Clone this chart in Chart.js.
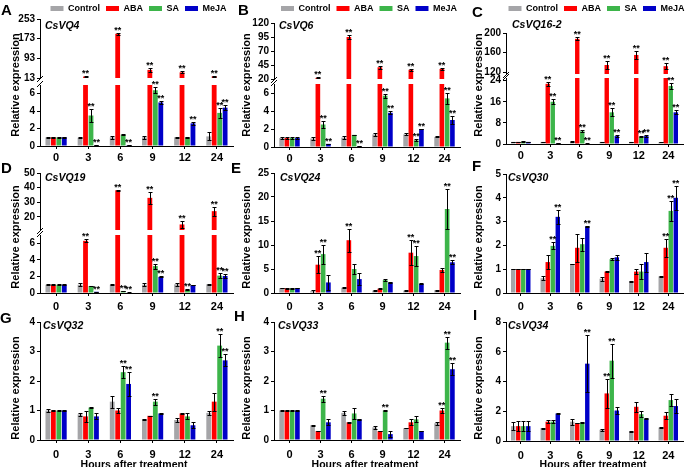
<!DOCTYPE html>
<html><head><meta charset="utf-8">
<script src="https://cdn.jsdelivr.net/npm/chart.js@4"></script>
<style>
html,body{margin:0;padding:0;background:#fff;}
#wrap{position:relative;width:685px;height:467px;overflow:hidden;font-family:"Liberation Sans",Arial,sans-serif;background:#fff;}
canvas{position:absolute;}
.t{position:absolute;white-space:nowrap;font-weight:bold;color:#000;}
</style></head><body><div id="wrap"></div>
<script>
// ---------- data ----------
const hours = ['0','3','6','9','12','24'];
const series = ['Control','ABA','SA','MeJA'];
const colors = ['#a5a5a8','#ff0000','#3db54a','#0000c8'];

// CsVQ4 (rows: Control, ABA, SA, MeJA)
const vq4Mean = [[1.0,0.95,1.0,1.0,1.0,1.1],[1.0,19,193,46,36,20],[1.0,3.5,1.3,6.4,1.0,3.8],[1.0,0.08,0.1,5.0,2.6,4.4]];
const vq4Err  = [[0.06,0.05,0.2,0.15,0.06,0.45],[0.05,1,5,7,4,2],[0.05,0.7,0.03,0.35,0.05,0.6],[0.05,0.02,0.02,0.15,0.2,0.3]];
const vq4Sig  = [[0,0,0,0,0,0],[0,1,1,1,1,1],[0,1,0,1,0,1],[0,1,1,1,1,1]];
const vq4UpperTicks = [13,93,173,253];
const vq4LowerTicks = [0,2,4,6];

// CsVQ6
const vq6Mean = [[1.0,0.95,1.05,1.4,1.4,1.12],[1.0,22,95,41,36.5,38],[1.0,2.5,1.35,5.7,0.75,5.4],[1.0,0.35,0.08,3.8,2.0,3.0]];
const vq6Err  = [[0.1,0.15,0.15,0.15,0.12,0.05],[0.1,1,4,2.5,2,2],[0.08,0.35,0.03,0.2,0.1,0.6],[0.08,0.03,0.02,0.15,0.05,0.45]];
const vq6Sig  = [[0,0,0,0,0,0],[0,1,1,1,1,1],[0,1,0,1,1,1],[0,1,1,1,1,1]];
const vq6UpperTicks = [20,45,70,95,120];
const vq6LowerTicks = [0,2,4,6];

// CsVQ16-2
const vq162Mean = [[0.8,0.8,0.8,0.8,0.8,0.7],[0.8,22.8,188,134.5,155,132],[0.9,16,4.8,12,2.8,22],[0.8,0.3,0.2,3.0,3.0,12]];
const vq162Err  = [[0.1,0.1,0.2,0.1,0.1,0.1],[0.1,0.8,3,8,9,6],[0.1,1.0,0.4,1.5,0.2,1.2],[0.1,0.05,0.05,0.3,0.3,0.7]];
const vq162Sig  = [[0,0,0,0,0,0],[0,1,1,1,1,1],[0,1,1,1,1,1],[0,1,1,1,1,1]];
const vq162UpperTicks = [120,160,200];
const vq162LowerTicks = [0,8,16,24];

// CsVQ19
const vq19Mean = [[1.0,1.0,1.0,1.0,1.05,1.05],[1.0,6.3,38.2,33,14.8,23.9],[1.0,0.85,0.25,3.25,0.4,2.1],[1.0,0.15,0.05,1.95,0.95,2.05]];
const vq19Err  = [[0.03,0.15,0.05,0.15,0.2,0.05],[0.03,0.2,0.5,4,2.5,3],[0.03,0.03,0.05,0.3,0.05,0.3],[0.03,0.02,0.02,0.05,0.03,0.2]];
const vq19Sig  = [[0,0,0,0,0,0],[0,1,1,1,1,1],[0,0,1,1,1,1],[0,1,1,1,0,1]];
const vq19UpperTicks = [20,30,40,50];
const vq19LowerTicks = [0,2,4,6];

// CsVQ24
const vq24Mean = [[1.0,0.4,1.1,0.5,0.5,0.6],[1.0,5.9,11.0,0.9,8.4,4.8],[1.0,8.1,5.0,2.7,7.7,17.5],[1.0,2.2,2.9,2.2,1.9,6.4]];
const vq24Err  = [[0.05,0.3,0.08,0.05,0.05,0.08],[0.1,1.8,2.4,0.05,2.6,0.5],[0.1,2.0,1.0,0.2,2.0,4.2],[0.05,1.6,1.2,0.05,0.1,0.4]];
const vq24Sig  = [[0,0,0,0,0,0],[0,1,1,0,1,0],[0,1,0,0,1,1],[0,0,0,0,0,1]];
const vq24Ticks = [0,5,10,15,20,25];

// CsVQ30
const vq30Mean = [[1.0,0.62,1.22,0.6,0.5,0.7],[1.0,1.3,1.9,0.9,0.9,1.9],[1.0,1.98,2.05,1.42,0.9,3.45],[1.0,3.2,2.8,1.5,1.3,4.0]];
const vq30Err  = [[0.01,0.08,0.01,0.08,0.02,0.02],[0.01,0.3,0.6,0.01,0.12,0.38],[0.01,0.15,0.28,0.03,0.3,0.42],[0.01,0.3,0.01,0.1,0.4,0.5]];
const vq30Sig  = [[0,0,0,0,0,0],[0,0,0,0,0,1],[0,1,0,0,0,1],[0,1,1,0,0,1]];
const vq30Ticks = [0,1,2,3,4,5];

// CsVQ32
const vq32Mean = [[1.0,0.87,1.3,0.7,0.68,0.92],[1.0,0.8,1.0,0.82,0.9,1.3],[1.0,1.1,2.3,1.3,0.8,3.2],[1.0,0.8,1.9,0.9,0.5,2.7]];
const vq32Err  = [[0.04,0.06,0.2,0.01,0.08,0.06],[0.01,0.2,0.1,0.01,0.01,0.3],[0.01,0.01,0.2,0.1,0.1,0.38],[0.01,0.1,0.4,0.01,0.1,0.2]];
const vq32Sig  = [[0,0,0,0,0,0],[0,0,0,0,0,0],[0,0,1,1,0,1],[0,0,1,0,0,1]];
const vq32Ticks = [0,1,2,3,4];

// CsVQ33
const vq33Mean = [[1.0,0.5,0.92,0.43,0.4,0.57],[1.0,0.3,0.6,0.3,0.6,1.0],[1.0,1.4,0.9,1.0,0.7,3.3],[1.0,0.6,0.7,0.2,0.3,2.4]];
const vq33Err  = [[0.03,0.01,0.08,0.05,0.01,0.05],[0.01,0.01,0.01,0.01,0.1,0.1],[0.02,0.1,0.2,0.01,0.1,0.2],[0.02,0.1,0.01,0.1,0.01,0.2]];
const vq33Sig  = [[0,0,0,0,0,0],[0,0,0,0,0,1],[0,1,0,1,0,1],[0,0,0,0,0,1]];
const vq33Ticks = [0,1,2,3,4];

// CsVQ34
const vq34Mean = [[1.0,0.87,1.3,0.75,0.65,0.9],[1.0,1.3,1.2,3.2,2.3,1.7],[1.0,1.3,1.25,5.4,1.8,2.75],[1.0,1.85,5.2,2.05,1.5,2.35]];
const vq34Err  = [[0.25,0.03,0.2,0.05,0.03,0.05],[0.35,0.1,0.02,1.0,0.35,0.25],[0.35,0.12,0.02,1.15,0.2,0.38],[0.35,0.05,1.9,0.25,0.02,0.5]];
const vq34Sig  = [[0,0,0,0,0,0],[0,0,0,1,0,0],[0,0,0,1,0,0],[0,0,1,0,0,0]];
const vq34Ticks = [0,2,4,6,8];

// ---------- layout ----------
const FONT = '"Liberation Sans", Arial, sans-serif';
Chart.defaults.font.family = FONT;
const wrap = document.getElementById('wrap');
const cols = [{l:40, r:233, yt:15, xt:134}, {l:274, r:460, yt:246, xt:365}, {l:506, r:683, yt:478, xt:593}];
const rows = [{yc:85, xpad:2}, {yc:237, xpad:4}, {yc:388, xpad:5}];

const panels = [
  {letter:'A', lx:1,   ly:15,  gene:'CsVQ4',    gx:45,  gy:29,  col:0, row:0, mean:vq4Mean,   err:vq4Err,   sig:vq4Sig,
   parts:[{top:19,bottom:78,min:13,max:253,ticks:vq4UpperTicks},{top:85,bottom:146,min:0,max:7,ticks:vq4LowerTicks}]},
  {letter:'B', lx:238, ly:15,  gene:'CsVQ6',    gx:279, gy:29,  col:1, row:0, mean:vq6Mean,   err:vq6Err,   sig:vq6Sig,
   parts:[{top:23,bottom:79,min:20,max:120,ticks:vq6UpperTicks},{top:84,bottom:147,min:0,max:7,ticks:vq6LowerTicks}]},
  {letter:'C', lx:472, ly:17,  gene:'CsVQ16-2', gx:512, gy:28,  col:2, row:0, mean:vq162Mean, err:vq162Err, sig:vq162Sig,
   parts:[{top:33,bottom:74,min:116,max:200,ticks:vq162UpperTicks},{top:78,bottom:144,min:0,max:25,ticks:vq162LowerTicks}]},
  {letter:'D', lx:1,   ly:173, gene:'CsVQ19',   gx:45,  gy:181, col:0, row:1, mean:vq19Mean,  err:vq19Err,  sig:vq19Sig,
   parts:[{top:173,bottom:230,min:11,max:50,ticks:vq19UpperTicks},{top:235,bottom:293,min:0,max:7,ticks:vq19LowerTicks}]},
  {letter:'E', lx:231, ly:173, gene:'CsVQ24',   gx:280, gy:181, col:1, row:1, mean:vq24Mean,  err:vq24Err,  sig:vq24Sig,
   parts:[{top:173,bottom:293,min:0,max:25,ticks:vq24Ticks}]},
  {letter:'F', lx:472, ly:171, gene:'CsVQ30',   gx:508, gy:181, col:2, row:1, mean:vq30Mean,  err:vq30Err,  sig:vq30Sig,
   parts:[{top:174,bottom:293,min:0,max:5,ticks:vq30Ticks}]},
  {letter:'G', lx:0,   ly:323, gene:'CsVQ32',   gx:43,  gy:329, col:0, row:2, mean:vq32Mean,  err:vq32Err,  sig:vq32Sig,
   parts:[{top:322,bottom:440,min:0,max:4,ticks:vq32Ticks}]},
  {letter:'H', lx:234, ly:321, gene:'CsVQ33',   gx:278, gy:329, col:1, row:2, mean:vq33Mean,  err:vq33Err,  sig:vq33Sig,
   parts:[{top:322,bottom:440,min:0,max:4,ticks:vq33Ticks}]},
  {letter:'I', lx:473, ly:320, gene:'CsVQ34',   gx:508, gy:329, col:2, row:2, mean:vq34Mean,  err:vq34Err,  sig:vq34Sig,
   parts:[{top:322,bottom:441,min:0,max:8,ticks:vq34Ticks}]}
];

// ---------- helpers ----------
function addCanvas(left, top, w, h) {
  const c = document.createElement('canvas');
  c.width = w; c.height = h;
  c.style.left = left + 'px'; c.style.top = top + 'px';
  c.style.width = w + 'px'; c.style.height = h + 'px';
  wrap.appendChild(c);
  return c;
}
function txt(s, x, baseline, size, extra) {
  const d = document.createElement('div');
  d.className = 't';
  d.textContent = s;
  d.style.fontSize = size + 'px';
  d.style.lineHeight = size + 'px';
  d.style.left = x + 'px';
  d.style.top = (baseline - 0.8465 * size) + 'px';
  if (extra) Object.assign(d.style, extra);
  wrap.appendChild(d);
  return d;
}
function centered(s, cx, cy, size, rotate) {
  const d = document.createElement('div');
  d.className = 't';
  d.textContent = s;
  d.style.fontSize = size + 'px';
  d.style.lineHeight = size + 'px';
  d.style.left = cx + 'px';
  d.style.top = cy + 'px';
  d.style.transform = 'translate(-50%,-50%)' + (rotate ? ' rotate(-90deg)' : '');
  wrap.appendChild(d);
}

const YW = 40, PT = 8, PR = 8, XH = 24, PB = 8;

function makePart(p, part, idx) {
  const col = cols[p.col], row = rows[p.row];
  const n = p.parts.length;
  const showX = idx === n - 1;
  const brkTop = n === 2 && idx === 1;
  const brkBottom = n === 2 && idx === 0;
  const cLeft = col.l - YW, cTop = part.top - PT;
  const w = (col.r - col.l) + YW + PR;
  const h = (part.bottom - part.top) + PT + (showX ? XH : PB);
  const canvas = addCanvas(cLeft, cTop, w, h);

  const errPlugin = {
    id: 'errbars',
    afterDatasetsDraw(chart) {
      const ctx = chart.ctx, ys = chart.scales.y, a = chart.chartArea;
      ctx.save();
      ctx.strokeStyle = '#000'; ctx.fillStyle = '#000'; ctx.lineWidth = 1;
      ctx.font = 'bold 9px ' + FONT;
      ctx.textAlign = 'center'; ctx.textBaseline = 'alphabetic';
      for (let i = 0; i < series.length; i++) {
        const meta = chart.getDatasetMeta(i);
        meta.data.forEach((bar, j) => {
          const v = p.mean[i][j], e = p.err[i][j];
          if (v > part.max) return;
          if (part.min > 0 && v <= part.min) return;
          const x = Math.round(bar.x) + 0.5;
          const hw = 2;
          const yt = Math.round(ys.getPixelForValue(v + e)) + 0.5;
          const yb = Math.round(Math.min(ys.getPixelForValue(v - e), a.bottom)) + 0.5;
          ctx.beginPath();
          ctx.moveTo(x, yt); ctx.lineTo(x, yb);
          ctx.moveTo(x - hw, yt); ctx.lineTo(x + hw, yt);
          ctx.moveTo(x - hw, yb); ctx.lineTo(x + hw, yb);
          ctx.stroke();
          if (p.sig[i][j]) ctx.fillText('**', bar.x, yt - 0.5);
        });
      }
      // axis break marks
      const ax = a.left;
      if (brkTop) {
        ctx.beginPath(); ctx.moveTo(ax - 3, a.top + 2); ctx.lineTo(ax + 3, a.top - 4); ctx.stroke();
      }
      if (brkBottom) {
        ctx.beginPath(); ctx.moveTo(ax - 3, a.bottom + 4); ctx.lineTo(ax + 3, a.bottom - 2); ctx.stroke();
      }
      ctx.restore();
    }
  };

  new Chart(canvas, {
    type: 'bar',
    data: {
      labels: hours,
      datasets: series.map((s, i) => ({
        label: s, data: p.mean[i], backgroundColor: colors[i], borderWidth: 0,
        categoryPercentage: 0.68, barPercentage: 0.88, clip: 0
      }))
    },
    options: {
      responsive: false, animation: false, devicePixelRatio: 1,
      layout: {padding: {left: 0, top: PT, right: PR, bottom: showX ? 0 : PB}},
      plugins: {legend: {display: false}, tooltip: {enabled: false}},
      scales: {
        x: {
          display: showX, offset: true,
          grid: {display: true, drawOnChartArea: false, offset: false, tickLength: 3, color: '#000'},
          border: {display: true, color: '#000', width: 1},
          ticks: {color: '#000', font: {size: 11, weight: 'bold'}, padding: row.xpad, maxRotation: 0, autoSkip: false},
          afterFit: s => { s.height = showX ? XH : 0; }
        },
        y: {
          min: part.min, max: part.max,
          grid: {display: true, drawOnChartArea: false, tickLength: 3, color: '#000'},
          border: {display: true, color: '#000', width: 1},
          ticks: {color: '#000', font: {size: 10, weight: 'bold'}, padding: 2, autoSkip: false},
          afterBuildTicks: s => { s.ticks = part.ticks.map(v => ({value: v})); },
          afterFit: s => { s.width = YW; }
        }
      }
    },
    plugins: [errPlugin]
  });
}

// legends (one per column, top) - legend-only charts
cols.forEach(col => {
  const c = addCanvas(col.l - 30, -2, col.r - col.l + 64, 70);
  new Chart(c, {
    type: 'bar',
    data: {labels: [], datasets: series.map((s, i) => ({label: s, data: [], backgroundColor: colors[i]}))},
    options: {
      responsive: false, animation: false, devicePixelRatio: 1,
      scales: {x: {display: false}, y: {display: false}},
      layout: {padding: 0},
      plugins: {
        tooltip: {enabled: false},
        legend: {display: true, position: 'top',
          labels: {boxWidth: 13, boxHeight: 5, padding: 6, color: '#000', font: {size: 9, weight: 'bold'}}}
      }
    }
  });
});

panels.forEach(p => {
  p.parts.forEach((part, idx) => makePart(p, part, idx));
  txt(p.letter, p.lx, p.ly, 15);
  txt(p.gene, p.gx, p.gy, 10.5, {fontStyle: 'italic'});
  centered('Relative expression', cols[p.col].yt, rows[p.row].yc, 11, true);
});
cols.forEach(col => centered('Hours after treatment', col.xt, 463.5, 10.5, false));
</script>
</body></html>
